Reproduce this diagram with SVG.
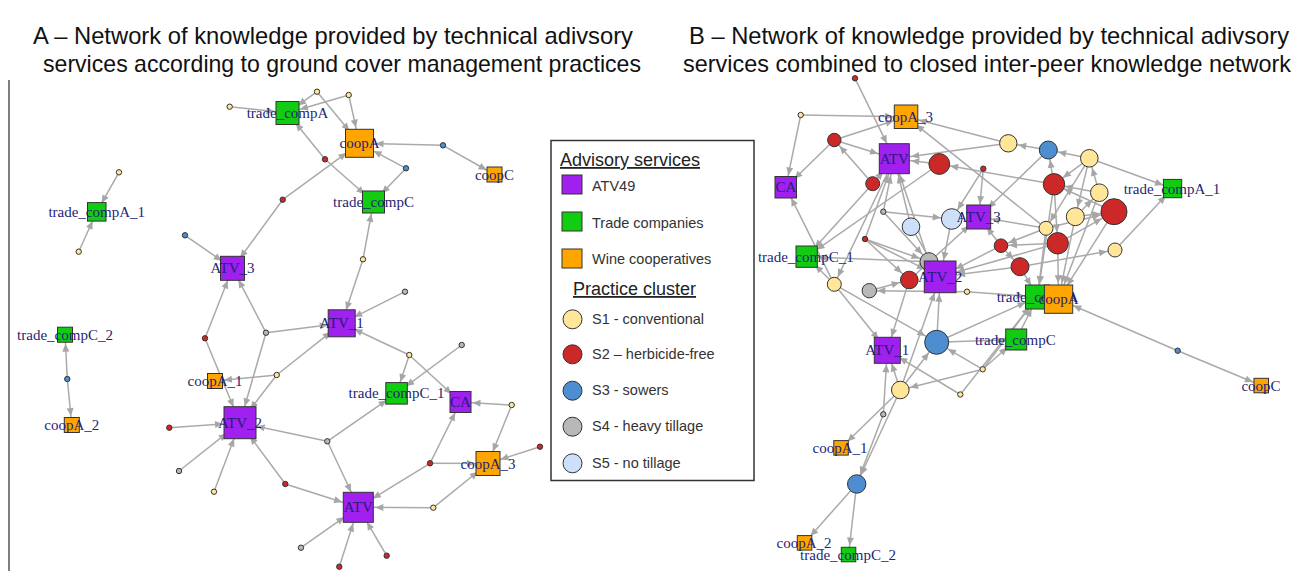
<svg xmlns="http://www.w3.org/2000/svg" width="1298" height="571" viewBox="0 0 1298 571">
<style>
.bg{fill:#fff}
.title{font-family:"Liberation Sans",Arial,sans-serif;font-size:24px;fill:#111;text-anchor:middle}
.lh{font-family:"Liberation Sans",Arial,sans-serif;font-size:18px;fill:#222;text-decoration:underline}
.lt{font-family:"Liberation Sans",Arial,sans-serif;font-size:14.5px;fill:#333}
.lab{font-family:"Liberation Serif","Times New Roman",serif;font-size:15px;fill:#1f1f75;text-anchor:middle}
.e line{stroke:#AAAAAA;stroke-width:1.5;fill:none}
.sq{stroke:#333;stroke-width:1}
.ci{stroke:#333;stroke-width:1}
.P{fill:#A020F0}.G{fill:#11CC11}.O{fill:#FFA500}
.Y{fill:#FFE699}.R{fill:#CC2828}.B{fill:#4C8ED0}.K{fill:#B8B8B8}.L{fill:#CCE0FA}
.t4{marker-end:url(#r4)}.t8{marker-end:url(#r8)}.t9{marker-end:url(#r9)}.t10{marker-end:url(#r10)}
.t11{marker-end:url(#r11)}.t12{marker-end:url(#r12)}.t13{marker-end:url(#r13)}.t14{marker-end:url(#r14)}
.t16{marker-end:url(#r16)}.t17{marker-end:url(#r17)}
</style>
<defs>
<marker id="r4" markerUnits="userSpaceOnUse" markerWidth="8" markerHeight="7" refX="12" refY="3.5" orient="auto" overflow="visible"><path d="M0,0L8,3.5L0,7z" fill="#A6A6A6"/></marker>
<marker id="r8" markerUnits="userSpaceOnUse" markerWidth="8" markerHeight="7" refX="16" refY="3.5" orient="auto" overflow="visible"><path d="M0,0L8,3.5L0,7z" fill="#A6A6A6"/></marker>
<marker id="r9" markerUnits="userSpaceOnUse" markerWidth="8" markerHeight="7" refX="17" refY="3.5" orient="auto" overflow="visible"><path d="M0,0L8,3.5L0,7z" fill="#A6A6A6"/></marker>
<marker id="r10" markerUnits="userSpaceOnUse" markerWidth="8" markerHeight="7" refX="18" refY="3.5" orient="auto" overflow="visible"><path d="M0,0L8,3.5L0,7z" fill="#A6A6A6"/></marker>
<marker id="r11" markerUnits="userSpaceOnUse" markerWidth="8" markerHeight="7" refX="19" refY="3.5" orient="auto" overflow="visible"><path d="M0,0L8,3.5L0,7z" fill="#A6A6A6"/></marker>
<marker id="r12" markerUnits="userSpaceOnUse" markerWidth="8" markerHeight="7" refX="20" refY="3.5" orient="auto" overflow="visible"><path d="M0,0L8,3.5L0,7z" fill="#A6A6A6"/></marker>
<marker id="r13" markerUnits="userSpaceOnUse" markerWidth="8" markerHeight="7" refX="21" refY="3.5" orient="auto" overflow="visible"><path d="M0,0L8,3.5L0,7z" fill="#A6A6A6"/></marker>
<marker id="r14" markerUnits="userSpaceOnUse" markerWidth="8" markerHeight="7" refX="22" refY="3.5" orient="auto" overflow="visible"><path d="M0,0L8,3.5L0,7z" fill="#A6A6A6"/></marker>
<marker id="r16" markerUnits="userSpaceOnUse" markerWidth="8" markerHeight="7" refX="24" refY="3.5" orient="auto" overflow="visible"><path d="M0,0L8,3.5L0,7z" fill="#A6A6A6"/></marker>
<marker id="r17" markerUnits="userSpaceOnUse" markerWidth="8" markerHeight="7" refX="25" refY="3.5" orient="auto" overflow="visible"><path d="M0,0L8,3.5L0,7z" fill="#A6A6A6"/></marker>
</defs>
<rect class="bg" x="0" y="0" width="1298" height="571"/>
<g id="titles">
<text class="title" x="333" y="44" textLength="600" lengthAdjust="spacingAndGlyphs">A – Network of knowledge provided by technical adivsory</text>
<text class="title" x="342" y="72" textLength="598" lengthAdjust="spacingAndGlyphs">services according to ground cover management practices</text>
<text class="title" x="989" y="44" textLength="600" lengthAdjust="spacingAndGlyphs">B – Network of knowledge provided by technical adivsory</text>
<text class="title" x="987" y="72" textLength="608" lengthAdjust="spacingAndGlyphs">services combined to closed inter-peer knowledge network</text>
</g>
<line x1="9" y1="80" x2="9" y2="571" stroke="#555" stroke-width="1.5"/>
<g id="legend">
<rect x="551" y="140.5" width="203" height="340" fill="#fff" stroke="#333" stroke-width="1.5"/>
<text class="lh" x="560" y="166">Advisory services</text>
<rect class="sq P" x="562" y="175" width="20" height="19"/><text class="lt" x="592" y="191">ATV49</text>
<rect class="sq G" x="562" y="212" width="20" height="19"/><text class="lt" x="592" y="228">Trade companies</text>
<rect class="sq O" x="562" y="249" width="20" height="19"/><text class="lt" x="592" y="264">Wine cooperatives</text>
<text class="lh" x="573" y="295">Practice cluster</text>
<circle class="ci Y" cx="572.5" cy="319.3" r="9.5"/><text class="lt" x="592" y="324">S1 - conventional</text>
<circle class="ci R" cx="572.5" cy="354.3" r="9.5"/><text class="lt" x="592" y="359">S2 – herbicide-free</text>
<circle class="ci B" cx="572.5" cy="390.7" r="9.5"/><text class="lt" x="592" y="395">S3 - sowers</text>
<circle class="ci K" cx="572.5" cy="426.7" r="9.5"/><text class="lt" x="592" y="431">S4 - heavy tillage</text>
<circle class="ci L" cx="572.5" cy="463.3" r="9.5"/><text class="lt" x="592" y="468">S5 - no tillage</text>
</g>
<g id="connectors-A" class="e">
<line class="t13" x1="229.7" y1="106.7" x2="287.5" y2="113"/>
<line class="t13" x1="317" y1="91.7" x2="287.5" y2="113"/>
<line class="t16" x1="317" y1="91.7" x2="359.5" y2="143.3"/>
<line class="t13" x1="348.7" y1="95" x2="287.5" y2="113"/>
<line class="t16" x1="348.7" y1="95" x2="359.5" y2="143.3"/>
<line class="t16" x1="443" y1="145.3" x2="359.5" y2="143.3"/>
<line class="t9" x1="443" y1="145.3" x2="494.5" y2="174.5"/>
<line class="t13" x1="325" y1="159.3" x2="287.5" y2="113"/>
<line class="t12" x1="325" y1="159.3" x2="373.5" y2="202"/>
<line class="t16" x1="406" y1="168.3" x2="359.5" y2="143.3"/>
<line class="t12" x1="406" y1="168.3" x2="373.5" y2="202"/>
<line class="t16" x1="282.7" y1="199.7" x2="359.5" y2="143.3"/>
<line class="t13" x1="282.7" y1="199.7" x2="232.5" y2="268.3"/>
<line class="t13" x1="185" y1="235.3" x2="232.5" y2="268.3"/>
<line class="t12" x1="363" y1="259.3" x2="373.5" y2="202"/>
<line class="t14" x1="363" y1="259.3" x2="341.7" y2="323.3"/>
<line class="t14" x1="405" y1="291.7" x2="341.7" y2="323.3"/>
<line class="t13" x1="205" y1="338.3" x2="232.5" y2="268.3"/>
<line class="t17" x1="205" y1="338.3" x2="240" y2="422.7"/>
<line class="t13" x1="266" y1="332.7" x2="232.5" y2="268.3"/>
<line class="t14" x1="266" y1="332.7" x2="341.7" y2="323.3"/>
<line class="t17" x1="266" y1="332.7" x2="240" y2="422.7"/>
<line class="t9" x1="276.7" y1="375" x2="215" y2="381"/>
<line class="t14" x1="276.7" y1="375" x2="341.7" y2="323.3"/>
<line class="t17" x1="276.7" y1="375" x2="240" y2="422.7"/>
<line class="t17" x1="169.3" y1="427.7" x2="240" y2="422.7"/>
<line class="t17" x1="179" y1="471" x2="240" y2="422.7"/>
<line class="t17" x1="214" y1="491.7" x2="240" y2="422.7"/>
<line class="t17" x1="285.3" y1="484" x2="240" y2="422.7"/>
<line class="t17" x1="285.3" y1="484" x2="358.3" y2="507.3"/>
<line class="t17" x1="327.3" y1="441.3" x2="240" y2="422.7"/>
<line class="t12" x1="327.3" y1="441.3" x2="396.5" y2="393.3"/>
<line class="t17" x1="327.3" y1="441.3" x2="358.3" y2="507.3"/>
<line class="t14" x1="409.3" y1="355" x2="341.7" y2="323.3"/>
<line class="t12" x1="409.3" y1="355" x2="396.5" y2="393.3"/>
<line class="t12" x1="409.3" y1="355" x2="460.5" y2="402"/>
<line class="t12" x1="461.7" y1="345" x2="396.5" y2="393.3"/>
<line class="t12" x1="511.7" y1="405" x2="460.5" y2="402"/>
<line class="t13" x1="511.7" y1="405" x2="488" y2="463.5"/>
<line class="t13" x1="540" y1="446.7" x2="488" y2="463.5"/>
<line class="t13" x1="430" y1="463.3" x2="488" y2="463.5"/>
<line class="t12" x1="430" y1="463.3" x2="460.5" y2="402"/>
<line class="t17" x1="430" y1="463.3" x2="358.3" y2="507.3"/>
<line class="t17" x1="433.3" y1="507.7" x2="358.3" y2="507.3"/>
<line class="t13" x1="433.3" y1="507.7" x2="488" y2="463.5"/>
<line class="t17" x1="301" y1="547.7" x2="358.3" y2="507.3"/>
<line class="t17" x1="339.3" y1="566.7" x2="358.3" y2="507.3"/>
<line class="t17" x1="386.7" y1="555.7" x2="358.3" y2="507.3"/>
<line class="t10" x1="119" y1="172.3" x2="96.7" y2="211.8"/>
<line class="t10" x1="78.7" y1="251.7" x2="96.7" y2="211.8"/>
<line class="t9" x1="67.3" y1="379" x2="65" y2="334.7"/>
<line class="t9" x1="67.3" y1="379" x2="71.8" y2="425"/>
</g>
<g id="connectors-B" class="e">
<line class="t17" x1="855" y1="78.3" x2="894.3" y2="158.7"/>
<line class="t13" x1="800.7" y1="115" x2="906" y2="116.7"/>
<line class="t12" x1="800.7" y1="115" x2="785.8" y2="187.2"/>
<line class="t12" x1="834.3" y1="140" x2="785.8" y2="187.2"/>
<line class="t17" x1="834.3" y1="140" x2="894.3" y2="158.7"/>
<line class="t13" x1="834.3" y1="140" x2="906" y2="116.7"/>
<line class="t8" x1="872.7" y1="183.7" x2="834.3" y2="140"/>
<line class="t17" x1="872.7" y1="183.7" x2="894.3" y2="158.7"/>
<line class="t17" x1="939.3" y1="164" x2="894.3" y2="158.7"/>
<line class="t17" x1="1008.3" y1="143.3" x2="894.3" y2="158.7"/>
<line class="t13" x1="1008.3" y1="143.3" x2="906" y2="116.7"/>
<line class="t11" x1="1054" y1="184.3" x2="939.3" y2="164"/>
<line class="t10" x1="1048.3" y1="150" x2="1008.3" y2="143.3"/>
<line class="t10" x1="1089.3" y1="158.3" x2="1048.3" y2="150"/>
<line class="t10" x1="1054" y1="184.3" x2="1048.3" y2="150"/>
<line class="t11" x1="1089.3" y1="158.3" x2="1054" y2="184.3"/>
<line class="t10" x1="1099.3" y1="192.7" x2="1089.3" y2="158.3"/>
<line class="t10" x1="1089.3" y1="158.3" x2="1075.3" y2="216.7"/>
<line class="t8" x1="1089.3" y1="158.3" x2="1046" y2="228.3"/>
<line class="t10" x1="1089.3" y1="158.3" x2="1172.5" y2="188.5"/>
<line class="t11" x1="1099.3" y1="192.7" x2="1054" y2="184.3"/>
<line class="t11" x1="1114" y1="211.7" x2="1054" y2="184.3"/>
<line class="t14" x1="1075.3" y1="216.7" x2="1114" y2="211.7"/>
<line class="t14" x1="1046" y1="228.3" x2="1114" y2="211.7"/>
<line class="t14" x1="1057.7" y1="243.3" x2="1114" y2="211.7"/>
<line class="t10" x1="1075.3" y1="216.7" x2="1099.3" y2="192.7"/>
<line class="t13" x1="1046" y1="228.3" x2="906" y2="116.7"/>
<line class="t13" x1="983.3" y1="168.7" x2="978.7" y2="217"/>
<line class="t11" x1="983.3" y1="168.7" x2="951.7" y2="219"/>
<line class="t13" x1="1048.3" y1="150" x2="978.7" y2="217"/>
<line class="t11" x1="883.3" y1="211.7" x2="951.7" y2="219"/>
<line class="t17" x1="883.3" y1="211.7" x2="894.3" y2="158.7"/>
<line class="t17" x1="911" y1="226.7" x2="894.3" y2="158.7"/>
<line class="t17" x1="929" y1="261.7" x2="894.3" y2="158.7"/>
<line class="t8" x1="894.3" y1="158.7" x2="834.3" y2="284.3"/>
<line class="t12" x1="939.3" y1="164" x2="806.7" y2="256.7"/>
<line class="t12" x1="872.7" y1="183.7" x2="806.7" y2="256.7"/>
<line class="t12" x1="834.3" y1="284.3" x2="785.8" y2="187.2"/>
<line class="t12" x1="834.3" y1="284.3" x2="806.7" y2="256.7"/>
<line class="t14" x1="834.3" y1="284.3" x2="887.3" y2="350.3"/>
<line class="t13" x1="834.3" y1="284.3" x2="936.7" y2="342.3"/>
<line class="t17" x1="865" y1="239" x2="894.3" y2="158.7"/>
<line class="t10" x1="865" y1="239" x2="909.3" y2="280"/>
<line class="t17" x1="865" y1="239" x2="940.2" y2="276.8"/>
<line class="t10" x1="865" y1="239" x2="929" y2="261.7"/>
<line class="t10" x1="883.3" y1="211.7" x2="929" y2="261.7"/>
<line class="t17" x1="951.7" y1="219" x2="940.2" y2="276.8"/>
<line class="t17" x1="911" y1="226.7" x2="940.2" y2="276.8"/>
<line class="t13" x1="909.3" y1="280" x2="978.7" y2="217"/>
<line class="t14" x1="909.3" y1="280" x2="887.3" y2="350.3"/>
<line class="t10" x1="869.3" y1="290.7" x2="909.3" y2="280"/>
<line class="t8" x1="967" y1="291.7" x2="869.3" y2="290.7"/>
<line class="t13" x1="967" y1="291.7" x2="1037.5" y2="297"/>
<line class="t13" x1="1001" y1="245.7" x2="978.7" y2="217"/>
<line class="t10" x1="1001" y1="245.7" x2="1020" y2="266.7"/>
<line class="t17" x1="1001" y1="245.7" x2="940.2" y2="276.8"/>
<line class="t17" x1="1020" y1="266.7" x2="940.2" y2="276.8"/>
<line class="t17" x1="1057.7" y1="243.3" x2="940.2" y2="276.8"/>
<line class="t13" x1="1020" y1="266.7" x2="1037.5" y2="297"/>
<line class="t8" x1="1020" y1="266.7" x2="1115" y2="250"/>
<line class="t10" x1="1115" y1="250" x2="1172.5" y2="188.5"/>
<line class="t13" x1="1046" y1="228.3" x2="978.7" y2="217"/>
<line class="t8" x1="1057.7" y1="243.3" x2="1001" y2="245.7"/>
<line class="t8" x1="1046" y1="228.3" x2="1001" y2="245.7"/>
<line class="t13" x1="1054" y1="184.3" x2="1037.5" y2="297"/>
<line class="t13" x1="1046" y1="228.3" x2="1037.5" y2="297"/>
<line class="t16" x1="1057.7" y1="243.3" x2="1058.5" y2="299.2"/>
<line class="t16" x1="1075.3" y1="216.7" x2="1058.5" y2="299.2"/>
<line class="t16" x1="1099.3" y1="192.7" x2="1058.5" y2="299.2"/>
<line class="t11" x1="1054" y1="184.3" x2="1057.7" y2="243.3"/>
<line class="t17" x1="900.3" y1="390" x2="940.2" y2="276.8"/>
<line class="t14" x1="900.3" y1="390" x2="887.3" y2="350.3"/>
<line class="t13" x1="900.3" y1="390" x2="936.7" y2="342.3"/>
<line class="t9" x1="900.3" y1="390" x2="841" y2="447.8"/>
<line class="t10" x1="900.3" y1="390" x2="856.7" y2="484"/>
<line class="t10" x1="883.3" y1="414.3" x2="856.7" y2="484"/>
<line class="t14" x1="883.3" y1="414.3" x2="887.3" y2="350.3"/>
<line class="t13" x1="982.7" y1="369.3" x2="936.7" y2="342.3"/>
<line class="t10" x1="982.7" y1="369.3" x2="900.3" y2="390"/>
<line class="t12" x1="982.7" y1="369.3" x2="1016.2" y2="339.5"/>
<line class="t13" x1="982.7" y1="369.3" x2="1037.5" y2="297"/>
<line class="t14" x1="960.3" y1="394.5" x2="887.3" y2="350.3"/>
<line class="t13" x1="960.3" y1="394.5" x2="1037.5" y2="297"/>
<line class="t13" x1="936.7" y1="342.3" x2="1037.5" y2="297"/>
<line class="t12" x1="936.7" y1="342.3" x2="1016.2" y2="339.5"/>
<line class="t17" x1="936.7" y1="342.3" x2="940.2" y2="276.8"/>
<line class="t13" x1="1016.2" y1="339.5" x2="1037.5" y2="297"/>
<line class="t9" x1="856.7" y1="484" x2="804.5" y2="542.8"/>
<line class="t9" x1="856.7" y1="484" x2="848.5" y2="554.5"/>
<line class="t16" x1="1177.7" y1="350.7" x2="1058.5" y2="299.2"/>
<line class="t9" x1="1177.7" y1="350.7" x2="1261.3" y2="385.5"/>
<line class="t16" x1="1114" y1="211.7" x2="1058.5" y2="299.2"/>
<line class="t12" x1="929" y1="261.7" x2="806.7" y2="256.7"/>
</g>
<g id="nodes-A">
<g id="A-f1"><circle class="ci Y" cx="229.7" cy="106.7" r="2.7"/></g>
<g id="A-f2"><circle class="ci Y" cx="317" cy="91.7" r="2.7"/></g>
<g id="A-f3"><circle class="ci Y" cx="348.7" cy="95" r="2.7"/></g>
<g id="A-f4"><circle class="ci B" cx="443" cy="145.3" r="2.7"/></g>
<g id="A-f5"><circle class="ci R" cx="325" cy="159.3" r="2.7"/></g>
<g id="A-f6"><circle class="ci B" cx="406" cy="168.3" r="2.7"/></g>
<g id="A-f7"><circle class="ci R" cx="282.7" cy="199.7" r="2.7"/></g>
<g id="A-f8"><circle class="ci B" cx="185" cy="235.3" r="2.7"/></g>
<g id="A-f9"><circle class="ci Y" cx="363" cy="259.3" r="2.7"/></g>
<g id="A-f10"><circle class="ci K" cx="405" cy="291.7" r="2.7"/></g>
<g id="A-f11"><circle class="ci R" cx="205" cy="338.3" r="2.7"/></g>
<g id="A-f12"><circle class="ci K" cx="266" cy="332.7" r="2.7"/></g>
<g id="A-f13"><circle class="ci Y" cx="276.7" cy="375" r="2.7"/></g>
<g id="A-f14"><circle class="ci R" cx="169.3" cy="427.7" r="2.7"/></g>
<g id="A-f15"><circle class="ci K" cx="179" cy="471" r="2.7"/></g>
<g id="A-f16"><circle class="ci Y" cx="214" cy="491.7" r="2.7"/></g>
<g id="A-f17"><circle class="ci R" cx="285.3" cy="484" r="2.7"/></g>
<g id="A-f18"><circle class="ci K" cx="327.3" cy="441.3" r="2.7"/></g>
<g id="A-f19"><circle class="ci Y" cx="409.3" cy="355" r="2.7"/></g>
<g id="A-f20"><circle class="ci K" cx="461.7" cy="345" r="2.7"/></g>
<g id="A-f21"><circle class="ci Y" cx="511.7" cy="405" r="2.7"/></g>
<g id="A-f22"><circle class="ci R" cx="540" cy="446.7" r="2.7"/></g>
<g id="A-f23"><circle class="ci R" cx="430" cy="463.3" r="2.7"/></g>
<g id="A-f24"><circle class="ci Y" cx="433.3" cy="507.7" r="2.7"/></g>
<g id="A-f25"><circle class="ci K" cx="301" cy="547.7" r="2.7"/></g>
<g id="A-f26"><circle class="ci R" cx="339.3" cy="566.7" r="2.7"/></g>
<g id="A-f27"><circle class="ci R" cx="386.7" cy="555.7" r="2.7"/></g>
<g id="A-f28"><circle class="ci Y" cx="119" cy="172.3" r="2.7"/></g>
<g id="A-f29"><circle class="ci Y" cx="78.7" cy="251.7" r="2.7"/></g>
<g id="A-f30"><circle class="ci B" cx="67.3" cy="379" r="2.7"/></g>
<g id="A-tcA"><rect class="sq G" x="276" y="101.5" width="23" height="23"/><text class="lab" x="287.5" y="118">trade_compA</text></g>
<g id="A-coopA"><rect class="sq O" x="345.5" y="129.3" width="28" height="28"/><text class="lab" x="359.5" y="148.3">coopA</text></g>
<g id="A-coopC"><rect class="sq O" x="487" y="167" width="15" height="15"/><text class="lab" x="494.5" y="179.5">coopC</text></g>
<g id="A-tcC"><rect class="sq G" x="362.5" y="191" width="22" height="22"/><text class="lab" x="373.5" y="207">trade_compC</text></g>
<g id="A-ATV3"><rect class="sq P" x="220.5" y="256.3" width="24" height="24"/><text class="lab" x="232.5" y="273.3">ATV_3</text></g>
<g id="A-ATV1"><rect class="sq P" x="328.2" y="309.8" width="27" height="27"/><text class="lab" x="341.7" y="328.3">ATV_1</text></g>
<g id="A-coopA1"><rect class="sq O" x="207.5" y="373.5" width="15" height="15"/><text class="lab" x="215" y="386">coopA_1</text></g>
<g id="A-ATV2"><rect class="sq P" x="224" y="406.7" width="32" height="32"/><text class="lab" x="240" y="427.7">ATV_2</text></g>
<g id="A-tcC1"><rect class="sq G" x="385.8" y="382.6" width="21.5" height="21.5"/><text class="lab" x="396.5" y="398.3">trade_compC_1</text></g>
<g id="A-CA"><rect class="sq P" x="450" y="391.5" width="21" height="21"/><text class="lab" x="460.5" y="407">CA</text></g>
<g id="A-coopA3"><rect class="sq O" x="476" y="451.5" width="24" height="24"/><text class="lab" x="488" y="468.5">coopA_3</text></g>
<g id="A-ATV"><rect class="sq P" x="343.3" y="492.3" width="30" height="30"/><text class="lab" x="358.3" y="512.3">ATV</text></g>
<g id="A-tcA1"><rect class="sq G" x="87.5" y="202.6" width="18.5" height="18.5"/><text class="lab" x="96.7" y="216.8">trade_compA_1</text></g>
<g id="A-tcC2"><rect class="sq G" x="57.5" y="327.2" width="15" height="15"/><text class="lab" x="65" y="339.7">trade_compC_2</text></g>
<g id="A-coopA2"><rect class="sq O" x="64.3" y="417.5" width="15" height="15"/><text class="lab" x="71.8" y="430">coopA_2</text></g>
</g>
<g id="nodes-B">
<g id="B-f1"><circle class="ci R" cx="855" cy="78.3" r="2.7"/></g>
<g id="B-f2"><circle class="ci Y" cx="800.7" cy="115" r="2.7"/></g>
<g id="B-f3"><circle class="ci R" cx="834.3" cy="140" r="6.7"/></g>
<g id="B-f4"><circle class="ci R" cx="939.3" cy="164" r="10.4"/></g>
<g id="B-f5"><circle class="ci Y" cx="1008.3" cy="143.3" r="8.7"/></g>
<g id="B-f6"><circle class="ci B" cx="1048.3" cy="150" r="9"/></g>
<g id="B-f7"><circle class="ci Y" cx="1089.3" cy="158.3" r="8.8"/></g>
<g id="B-f8"><circle class="ci R" cx="983.3" cy="168.7" r="2.7"/></g>
<g id="B-f9"><circle class="ci R" cx="872.7" cy="183.7" r="7"/></g>
<g id="B-f10"><circle class="ci R" cx="1054" cy="184.3" r="10.7"/></g>
<g id="B-f11"><circle class="ci Y" cx="1099.3" cy="192.7" r="8.8"/></g>
<g id="B-f12"><circle class="ci R" cx="1114" cy="211.7" r="13"/></g>
<g id="B-f13"><circle class="ci K" cx="883.3" cy="211.7" r="2.7"/></g>
<g id="B-f14"><circle class="ci L" cx="951.7" cy="219" r="10.3"/></g>
<g id="B-f15"><circle class="ci Y" cx="1075.3" cy="216.7" r="9"/></g>
<g id="B-f16"><circle class="ci L" cx="911" cy="226.7" r="8.8"/></g>
<g id="B-f17"><circle class="ci Y" cx="1046" cy="228.3" r="7"/></g>
<g id="B-f18"><circle class="ci R" cx="865" cy="239" r="2.7"/></g>
<g id="B-f19"><circle class="ci R" cx="1001" cy="245.7" r="6.8"/></g>
<g id="B-f20"><circle class="ci R" cx="1057.7" cy="243.3" r="10.7"/></g>
<g id="B-f21"><circle class="ci Y" cx="1115" cy="250" r="7"/></g>
<g id="B-f22"><circle class="ci K" cx="929" cy="261.7" r="9"/></g>
<g id="B-f23"><circle class="ci R" cx="1020" cy="266.7" r="9"/></g>
<g id="B-f24"><circle class="ci R" cx="909.3" cy="280" r="8.8"/></g>
<g id="B-f25"><circle class="ci Y" cx="834.3" cy="284.3" r="7"/></g>
<g id="B-f26"><circle class="ci K" cx="869.3" cy="290.7" r="7.2"/></g>
<g id="B-f27"><circle class="ci Y" cx="967" cy="291.7" r="2.7"/></g>
<g id="B-f28"><circle class="ci B" cx="936.7" cy="342.3" r="12"/></g>
<g id="B-f29"><circle class="ci Y" cx="982.7" cy="369.3" r="2.7"/></g>
<g id="B-f30"><circle class="ci Y" cx="900.3" cy="390" r="8.8"/></g>
<g id="B-f31"><circle class="ci Y" cx="960.3" cy="394.5" r="2.7"/></g>
<g id="B-f32"><circle class="ci K" cx="883.3" cy="414.3" r="2.7"/></g>
<g id="B-f33"><circle class="ci B" cx="856.7" cy="484" r="9.2"/></g>
<g id="B-f34"><circle class="ci B" cx="1177.7" cy="350.7" r="2.7"/></g>
<g id="B-coopA3"><rect class="sq O" x="894.3" y="105" width="23.5" height="23.5"/><text class="lab" x="905.5" y="121.7">coopA_3</text></g>
<g id="B-ATV"><rect class="sq P" x="879.3" y="143.7" width="30" height="30"/><text class="lab" x="894.3" y="163.7">ATV</text></g>
<g id="B-CA"><rect class="sq P" x="775" y="176.5" width="21.5" height="21.5"/><text class="lab" x="785.8" y="192.2">CA</text></g>
<g id="B-ATV3"><rect class="sq P" x="966.7" y="205" width="24" height="24"/><text class="lab" x="978.7" y="222">ATV_3</text></g>
<g id="B-tcC1"><rect class="sq G" x="796" y="246" width="21.3" height="21.3"/><text class="lab" x="805.8" y="261.7">trade_compC_1</text></g>
<g id="B-ATV2"><rect class="sq P" x="924.3" y="261" width="31.7" height="31.7"/><text class="lab" x="940.2" y="281.8">ATV_2</text></g>
<g id="B-tcA"><rect class="sq G" x="1025.5" y="285" width="24" height="24"/><text class="lab" x="1037.5" y="302">trade_compA</text></g>
<g id="B-coopA"><rect class="sq O" x="1044.4" y="285" width="28.3" height="28.3"/><text class="lab" x="1058.5" y="304.2">coopA</text></g>
<g id="B-tcA1"><rect class="sq G" x="1163.4" y="179.4" width="18.3" height="18.3"/><text class="lab" x="1172" y="193.5">trade_compA_1</text></g>
<g id="B-tcC"><rect class="sq G" x="1005.7" y="329" width="21" height="21"/><text class="lab" x="1015.3" y="344.5">trade_compC</text></g>
<g id="B-ATV1"><rect class="sq P" x="874.3" y="337.3" width="26" height="26"/><text class="lab" x="887.3" y="355.3">ATV_1</text></g>
<g id="B-coopA1"><rect class="sq O" x="833.8" y="440.6" width="14.5" height="14.5"/><text class="lab" x="840" y="452.8">coopA_1</text></g>
<g id="B-coopA2"><rect class="sq O" x="797.3" y="535.6" width="14.5" height="14.5"/><text class="lab" x="804" y="547.8">coopA_2</text></g>
<g id="B-tcC2"><rect class="sq G" x="841.3" y="547.3" width="14.5" height="14.5"/><text class="lab" x="848" y="559.5">trade_compC_2</text></g>
<g id="B-coopC"><rect class="sq O" x="1254" y="378.3" width="14.5" height="14.5"/><text class="lab" x="1261" y="390.5">coopC</text></g>
</g>
</svg>
